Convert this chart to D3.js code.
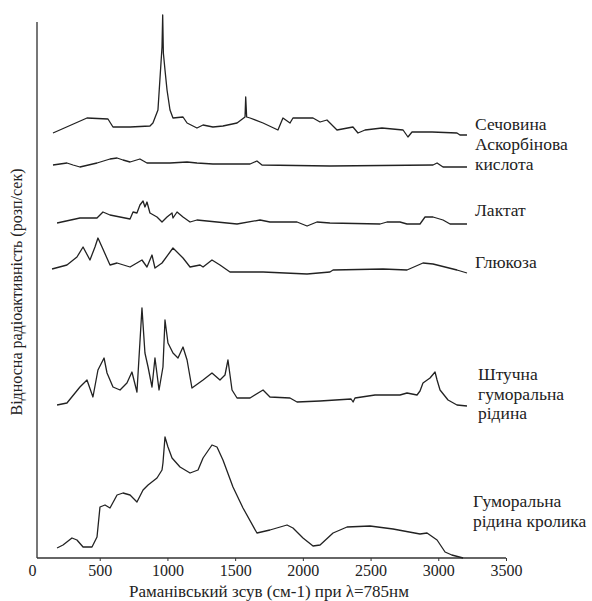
<!DOCTYPE html>
<html>
<head>
<meta charset="utf-8">
<script src="https://cdn.jsdelivr.net/npm/d3@7/dist/d3.min.js"></script>
<style>
  html, body { margin: 0; padding: 0; background: #fff; }
  svg { display: block; }
</style>
</head>
<body>
<svg id="chart" width="592" height="601"></svg>
<script>
// x ticks (cm-1)
const xTicks = [0, 500, 1000, 1500, 2000, 2500, 3000, 3500];

// Spectra: [Raman shift cm-1, relative intensity (arb. units, stacked)]
const urea = [
  [155,425],[406,440],[561,439],[598,431],[724,431],[871,432],[893,435],[930,448],
  [960,511],[965,543],[970,505],[982,488],[997,468],[1019,448],[1041,440],[1115,441],
  [1145,435],[1218,430],[1263,433],[1336,431],[1410,432],[1514,435],[1573,441],
  [1578,461],[1585,441],[1610,440],[1706,435],[1816,428],[1853,440],[1905,435],
  [1927,440],[2075,440],[2127,436],[2178,438],[2252,428],[2370,431],[2407,425],
  [2459,428],[2584,430],[2740,428],[2776,421],[2806,426],[2954,426],[3138,425],
  [3160,423],[3212,423]
];
const ascorbic = [
  [155,393],[258,395],[303,393],[354,391],[480,395],[576,399],[628,400],[672,398],
  [724,396],[797,399],[849,395],[923,395],[1019,395],[1145,396],[1218,395],[1336,394],
  [1610,394],[1661,397],[1698,393],[2200,392],[2961,393],[2991,395],[3035,391],[3212,391]
];
const lactate = [
  [185,335],[354,340],[480,340],[524,346],[576,343],[724,339],[746,346],[775,345],
  [797,353],[820,357],[834,351],[849,356],[871,345],[923,341],[960,336],[997,341],
  [1034,345],[1041,340],[1071,346],[1115,341],[1167,336],[1218,338],[1514,334],
  [1684,338],[1757,336],[1957,336],[2031,332],[2104,336],[2200,335],[2570,334],
  [2621,336],[2717,336],[2769,334],[2865,334],[2902,341],[2961,341],[3035,338],
  [3087,334],[3212,334]
];
const glucose = [
  [148,289],[258,293],[332,301],[377,311],[428,298],[465,311],[487,320],[517,311],
  [576,293],[628,295],[724,291],[812,298],[849,291],[886,303],[908,290],[960,295],
  [1041,310],[1115,300],[1167,291],[1241,293],[1263,291],[1329,298],[1388,293],
  [1462,286],[1706,286],[2031,284],[2200,286],[2223,288],[2592,289],[2769,288],
  [2887,295],[2961,294],[3138,288],[3212,285]
];
const artificial = [
  [185,153],[258,155],[354,171],[406,178],[450,161],[487,188],[532,200],[554,185],
  [598,171],[650,168],[701,175],[738,186],[775,166],[812,250],[834,205],[857,191],
  [886,171],[908,200],[938,168],[967,191],[982,238],[1004,215],[1019,211],[1041,205],
  [1078,200],[1115,211],[1145,198],[1181,170],[1263,178],[1329,185],[1388,178],
  [1425,183],[1447,198],[1477,168],[1514,160],[1610,160],[1706,168],[1757,161],
  [1905,160],[1957,156],[2127,157],[2356,159],[2371,156],[2385,160],[2533,163],
  [2717,163],[2769,165],[2843,163],[2865,167],[2887,175],[2939,180],[2976,186],
  [2991,178],[3013,168],[3072,158],[3138,153],[3212,152]
];
const rabbit = [
  [185,10],[229,13],[295,20],[332,18],[377,11],[443,11],[480,21],[502,51],[539,53],
  [576,50],[628,63],[672,65],[724,63],[775,56],[820,68],[857,73],[923,80],[960,88],
  [967,95],[982,121],[1004,111],[1034,100],[1093,91],[1167,85],[1226,88],[1263,100],
  [1329,113],[1366,111],[1410,98],[1484,71],[1558,50],[1661,25],[1757,28],[1883,33],
  [1927,30],[2001,20],[2075,12],[2127,13],[2223,25],[2326,31],[2496,32],[2666,29],
  [2865,24],[2917,25],[2991,18],[3050,6],[3100,3],[3183,0]
];

// Labels (right side)
const labelUrea = ["Сечовина"];
const labelAscorbic = ["Аскорбінова", "кислота"];
const labelLactate = ["Лактат"];
const labelGlucose = ["Глюкоза"];
const labelArtificial = ["Штучна", "гуморальна", "рідина"];
const labelRabbit = ["Гуморальна", "рідина кролика"];

const xTitle = "Раманівський зсув (см-1) при λ=785нм";
const yTitle = "Відносна радіоактивність (розп/сек)";

const FONT = '"Liberation Serif"';

const svg = d3.select("#chart");

const x = d3.scaleLinear().domain([0, 3500]).range([32, 506]);
const y = d3.scaleLinear().domain([0, 536]).range([558, 22]);

// y axis line
svg.append("line")
  .attr("x1", 37).attr("x2", 37)
  .attr("y1", y(536)).attr("y2", y(0))
  .attr("stroke", "#777").attr("stroke-width", 2);

// x axis
const xAxis = d3.axisBottom(x).tickValues(xTicks).tickFormat(d3.format("d")).tickSize(3).tickSizeOuter(0);
const gx = svg.append("g").attr("transform", `translate(0,${y(0)})`).call(xAxis);
gx.attr("font-family", null).attr("font-size", null);
gx.select(".domain").remove();
gx.selectAll(".tick line").attr("stroke", "#333");
gx.selectAll(".tick text")
  .attr("y", 18).attr("dy", 0)
  .attr("font-family", FONT).attr("font-size", 16)
  .attr("fill", "#222");
gx.selectAll(".tick").filter(d => d === 0).select("line").remove();

svg.append("line")
  .attr("x1", 37).attr("x2", x(3500))
  .attr("y1", y(0)).attr("y2", y(0))
  .attr("stroke", "#333").attr("stroke-width", 1.6);

// spectra
const line = d3.line().x(d => x(d[0])).y(d => y(d[1]));
[urea, ascorbic, lactate, glucose, artificial, rabbit].forEach(s => {
  svg.append("path")
    .attr("d", line(s))
    .attr("fill", "none")
    .attr("stroke", "#222")
    .attr("stroke-width", 1.3)
    .attr("stroke-linejoin", "round");
});

// right labels
function addLabel(lines, lx, ly) {
  const t = svg.append("text").attr("x", lx).attr("y", ly)
    .attr("font-family", FONT).attr("font-size", 17.5).attr("fill", "#222");
  lines.forEach((l, i) => {
    t.append("tspan").attr("x", lx).attr("dy", i === 0 ? 0 : 19.5).text(l);
  });
}
addLabel(labelUrea, 475, 130);
addLabel(labelAscorbic, 475, 150);
addLabel(labelLactate, 475, 216);
addLabel(labelGlucose, 475, 268);
addLabel(labelArtificial, 478, 380);
addLabel(labelRabbit, 473, 507);

// axis titles
svg.append("text")
  .attr("x", 269).attr("y", 597)
  .attr("text-anchor", "middle")
  .attr("font-family", FONT).attr("font-size", 17).attr("fill", "#222")
  .text(xTitle);

svg.append("text")
  .attr("transform", "translate(22,292) rotate(-90)")
  .attr("text-anchor", "middle")
  .attr("font-family", FONT).attr("font-size", 16).attr("fill", "#222")
  .text(yTitle);
</script>
</body>
</html>
